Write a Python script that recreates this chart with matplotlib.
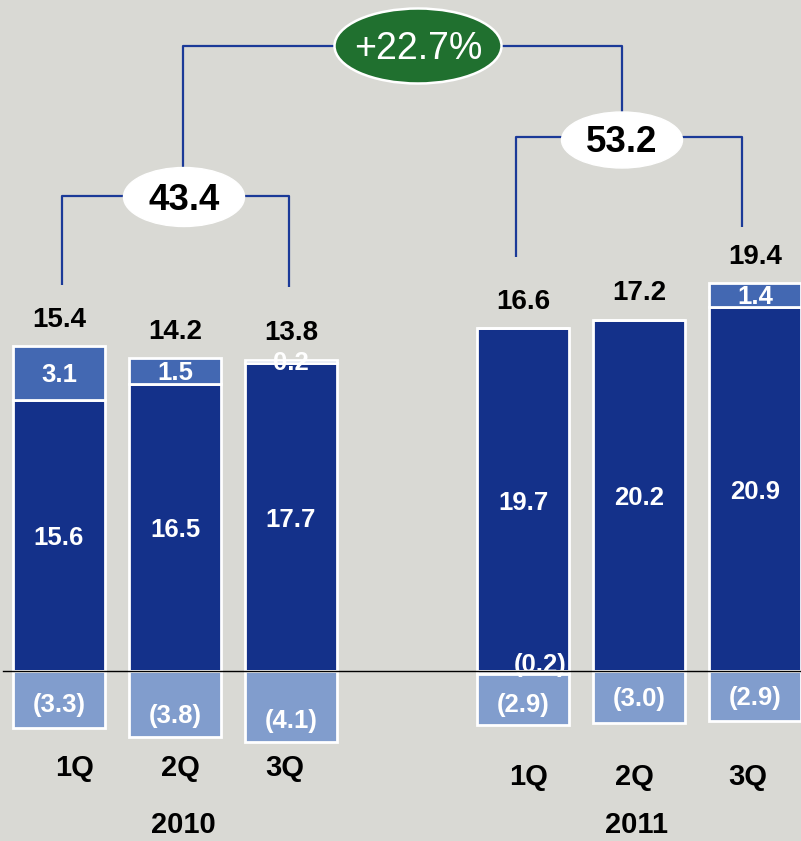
import matplotlib
matplotlib.use("Agg")
import matplotlib.pyplot as plt
from matplotlib.patches import Ellipse

# ---------------- data ----------------
quarters = ['1Q', '2Q', '3Q', '1Q', '2Q', '3Q']
years = ['2010', '2011']
core = [15.6, 16.5, 17.7, 19.7, 20.2, 20.9]          # dark navy segment
extra = [3.1, 1.5, 0.2, 0.0, 0.0, 1.4]               # light-blue top segment
core_neg = [0.0, 0.0, 0.0, 0.2, 0.0, 0.0]            # navy negative piece
deduction = [3.3, 3.8, 4.1, 2.9, 3.0, 2.9]           # negative light segment
totals = [15.4, 14.2, 13.8, 16.6, 17.2, 19.4]
year_totals = [43.4, 53.2]
growth_label = '+22.7%'

# ---------------- layout ----------------
W, H = 801, 841
x_pos = [0, 1, 2, 4, 5, 6]
PX_X0, PX_DX = 59.0, 116.0     # pixel center of first bar, pixels per slot
PX_Y0, PX_DY = 671.0, 17.4     # pixel of zero line, pixels per unit

def dx(px):  # pixel x -> data x
    return (px - PX_X0) / PX_DX

def dy(py):  # pixel y -> data y
    return (PX_Y0 - py) / PX_DY

def sh(px):  # pixel shift (down positive) -> data shift
    return -px / PX_DY

NAVY = '#14318a'
TOPC = '#4368b2'
LIGHT = '#819dcd'
BG = '#d9d9d4'
LINE = '#1b3a98'
GREEN = '#20702f'
FONT = ['Liberation Sans', 'DejaVu Sans']
plt.rcParams['font.family'] = FONT

fig = plt.figure(figsize=(W / 100, H / 100), dpi=100)
fig.patch.set_facecolor(BG)
ax = fig.add_axes([0, 0, 1, 1])
ax.set_facecolor(BG)
ax.set_xlim(dx(0), dx(W))
ax.set_ylim(dy(H), dy(0))
ax.axis('off')

bw = 92 / PX_DX
ekw = dict(edgecolor='white', linewidth=2.0, width=bw, zorder=2)

neg_start = [-c for c in core_neg]
ax.bar(x_pos, core, bottom=0, color=NAVY, **ekw)
ax.bar(x_pos, extra, bottom=core, color=TOPC, **ekw)
ax.bar(x_pos, [-c for c in core_neg], bottom=0, color=NAVY, **ekw)
ax.bar(x_pos, [-d for d in deduction], bottom=neg_start, color=LIGHT, **ekw)

# zero line
ax.plot([dx(3), dx(W)], [0, 0], color='black', lw=1.0, zorder=5)

# segment labels
WFS = 18.5
ded_off = [3, 10, 12, 3, 0, 0]
for i, x in enumerate(x_pos):
    ax.text(x, core[i] / 2 + sh(3), f'{core[i]:.1f}', color='white', fontsize=WFS,
            fontweight='bold', ha='center', va='center', zorder=4)
    if extra[i] > 0:
        ax.text(x, core[i] + extra[i] / 2 + sh(2), f'{extra[i]:.1f}', color='white',
                fontsize=WFS, fontweight='bold', ha='center', va='center', zorder=4)
    if core_neg[i] > 0:
        ax.text(x + 17 / PX_DX, 0.35, f'({core_neg[i]:.1f})', color='white',
                fontsize=WFS, fontweight='bold', ha='center', va='center', zorder=4)
    ylab = neg_start[i] - deduction[i] / 2 + sh(2 + ded_off[i])
    ax.text(x, ylab, f'({deduction[i]:.1f})', color='white', fontsize=WFS,
            fontweight='bold', ha='center', va='center', zorder=4)
    top = core[i] + extra[i]
    ax.text(x, top + 1.5, f'{totals[i]:.1f}', color='black', fontsize=20,
            fontweight='bold', ha='center', va='center', zorder=4)

# quarter & year labels
q_off = [16, 5, -6, 6, -5, -7]
q_y = [768, 768, 768, 777, 777, 777]
for i, x in enumerate(x_pos):
    ax.text(x + q_off[i] / PX_DX, dy(q_y[i]), quarters[i], color='black', fontsize=21,
            fontweight='bold', ha='center', va='center')
year_px = [183, 636]
for yi, yl in enumerate(years):
    ax.text(dx(year_px[yi]), dy(825), yl, color='black', fontsize=21,
            fontweight='bold', ha='center', va='center')

# brackets
lkw = dict(color=LINE, lw=1.6, zorder=1, solid_capstyle='butt')
# 2010
ax.plot([dx(62), dx(62), dx(289), dx(289)], [dy(285), dy(196), dy(196), dy(287)], **lkw)
# 2011
ax.plot([dx(516), dx(516), dx(742), dx(742)], [dy(257), dy(137), dy(137), dy(227)], **lkw)
# top
ax.plot([dx(183), dx(183), dx(622), dx(622)], [dy(196), dy(46), dy(46), dy(137)], **lkw)

# ellipses
ax.add_patch(Ellipse((dx(184), dy(197)), 121 / PX_DX, 59 / PX_DY,
                     facecolor='white', edgecolor='white', lw=1, zorder=3))
ax.text(dx(184), dy(200), f'{year_totals[0]:.1f}', fontsize=26.5, fontweight='bold',
        color='black', ha='center', va='center', zorder=4)
ax.add_patch(Ellipse((dx(622), dy(140)), 121 / PX_DX, 56 / PX_DY,
                     facecolor='white', edgecolor='white', lw=1, zorder=3))
ax.text(dx(622), dy(143), f'{year_totals[1]:.1f}', fontsize=26.5, fontweight='bold',
        color='black', ha='center', va='center', zorder=4)
ax.add_patch(Ellipse((dx(418), dy(46)), 167 / PX_DX, 75 / PX_DY,
                     facecolor=GREEN, edgecolor='white', lw=1.8, zorder=3))
ax.text(dx(418), dy(49), growth_label, fontsize=27, color='white',
        ha='center', va='center', zorder=4)

fig.savefig('out.png', dpi=100, facecolor=BG)
